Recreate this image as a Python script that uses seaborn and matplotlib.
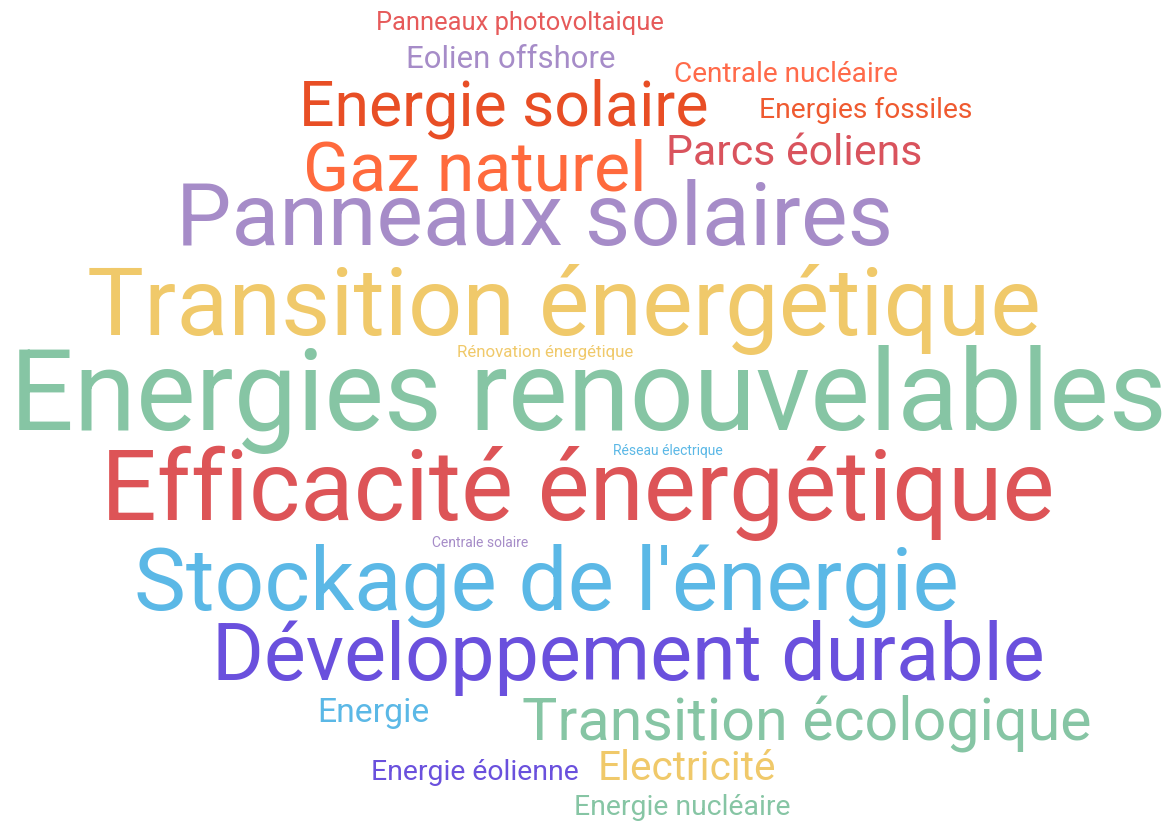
import matplotlib
matplotlib.use("Agg")
import matplotlib.pyplot as plt
import seaborn as sns

# Word cloud data: words, frequencies, colours
words = [
    "Energies renouvelables", "Transition énergétique", "Efficacité énergétique",
    "Panneaux solaires", "Stockage de l'énergie", "Développement durable",
    "Gaz naturel", "Energie solaire", "Transition écologique", "Parcs éoliens",
    "Electricité", "Energie", "Eolien offshore", "Centrale nucléaire",
    "Energies fossiles", "Energie nucléaire", "Energie éolienne",
    "Panneaux photovoltaique", "Rénovation énergétique", "Réseau électrique",
    "Centrale solaire",
]
frequency = [81, 68.7, 70.7, 63.4, 62.8, 57, 49, 45, 42.6, 30.8, 29.2, 24.3,
             22.4, 20.2, 20.3, 20.4, 20.4, 18.4, 12.2, 10, 10]
colors = [
    "#86c5a4", "#f0c96a", "#dd5457", "#a68cc8", "#5bb8e6", "#6a50dd",
    "#ff6a3d", "#e84e25", "#86c5a4", "#d9535d", "#f0c96a", "#5bb8e6",
    "#a68cc8", "#ff6a4a", "#ef5a30", "#86c5a4", "#6a50dd", "#e65a5a",
    "#f0c96a", "#5bb8e6", "#a68cc8",
]

# Layout: word centre x and baseline y, in pixels of the canvas
pos_x = [588, 564, 578, 535, 546, 628, 475, 504, 807, 794, 687, 373, 511, 786, 866, 682, 475, 520, 545, 668, 480]
pos_y = [430, 335, 520, 245, 610, 680, 190, 125, 740, 165, 780, 722, 68, 82, 118, 815, 780, 30, 357, 455, 547]

W, H = 1176, 823


def main():
    sns.set_theme(style="white")
    plt.rcParams["font.family"] = ["Roboto", "DejaVu Sans"]
    fig, ax = plt.subplots(figsize=(W / 100, H / 100), dpi=100)
    fig.subplots_adjust(0, 0, 1, 1)
    ax.set_xlim(0, W)
    ax.set_ylim(H, 0)
    ax.axis("off")

    scale = 1.0  # points per frequency unit
    for w, f, c, x, y in zip(words, frequency, colors, pos_x, pos_y):
        ax.text(x, y, w, fontsize=f * scale, color=c, ha="center", va="baseline")

    fig.savefig("out.png", dpi=100, facecolor="white")
    plt.close(fig)


if __name__ == "__main__":
    main()
